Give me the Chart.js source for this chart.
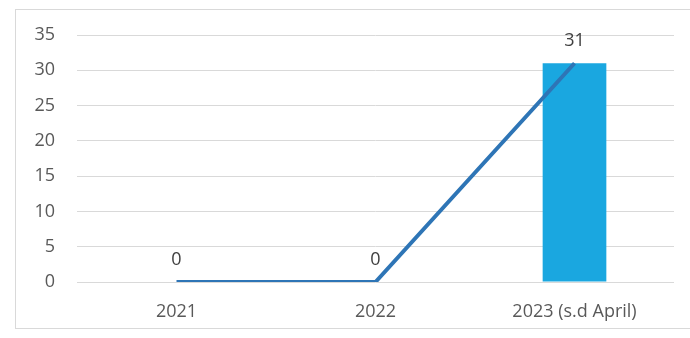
<!DOCTYPE html>
<html>
<head>
<meta charset="utf-8">
<script src="https://cdn.jsdelivr.net/npm/chart.js@4/dist/chart.umd.min.js"></script>
<style>
  html, body { margin: 0; padding: 0; background: #fff; }
  #wrap { position: relative; width: 690px; height: 338px; }
  #frame {
    position: absolute; left: 15px; top: 9px; width: 680px; height: 318px;
    border-left: 1px solid #d9d9d9; border-top: 1px solid #d9d9d9; border-bottom: 1px solid #d9d9d9;
  }
  #chart { position: absolute; left: 0; top: 0; }
</style>
</head>
<body>
<div id="wrap">
  <div id="frame"></div>
  <canvas id="chart" width="690" height="338"></canvas>
</div>
<script>
var categories = ['2021', '2022', '2023 (s.d April)'];
var barValues  = [0, 0, 31];
var lineValues = [0, 0, 31];
var yTicks     = [0, 5, 10, 15, 20, 25, 30, 35];

var font_family = "'Open Sans', 'Noto Sans', sans-serif";

//  draw the value labels above the line points
var valueLabels = {
  id: 'valueLabels',
  afterDatasetsDraw: function(chart) {
    var ctx  = chart.ctx,
        meta = chart.getDatasetMeta(1);

    ctx.save();
    ctx.font = '18px ' + font_family;
    ctx.fillStyle = '#404040';
    ctx.textAlign = 'center';
    ctx.textBaseline = 'middle';
    meta.data.forEach(function(pt, i) {
      ctx.fillText(String(lineValues[i]), pt.x, pt.y - 22);
    });
    ctx.restore();
  }
};

var ctx = document.getElementById('chart').getContext('2d');
var myChart = new Chart(ctx, {
  type: 'bar',
  data: {
    labels: categories,
    datasets: [{
      type: 'bar',
      data: barValues,
      backgroundColor: '#1aa7e0',
      barPercentage: 0.32,
      categoryPercentage: 1,
      order: 2
    }, {
      type: 'line',
      data: lineValues,
      borderColor: '#2e75b6',
      borderWidth: 4,
      pointRadius: 0,
      tension: 0,
      order: 1
    }]
  },
  plugins: [valueLabels],
  options: {
    responsive: false,
    animation: false,
    layout: { padding: { left: 0, right: 16, top: 35, bottom: 0 } },
    plugins: {
      legend: { display: false },
      tooltip: { enabled: false }
    },
    scales: {
      x: {
        grid: { display: false, drawTicks: false },
        border: { display: false },
        ticks: { color: '#595959', font: { size: 18, family: font_family }, padding: 19 },
        afterFit: function(scale) { scale.height = 56; }
      },
      y: {
        min: 0,
        max: 35,
        grid: { color: '#d9d9d9', drawTicks: false },
        border: { display: false },
        afterBuildTicks: function(scale) {
          scale.ticks = yTicks.map(function(v) { return { value: v }; });
        },
        ticks: { color: '#595959', font: { size: 18, family: font_family }, padding: 22 },
        afterFit: function(scale) { scale.width = 77; }
      }
    }
  }
});
</script>
</body>
</html>
